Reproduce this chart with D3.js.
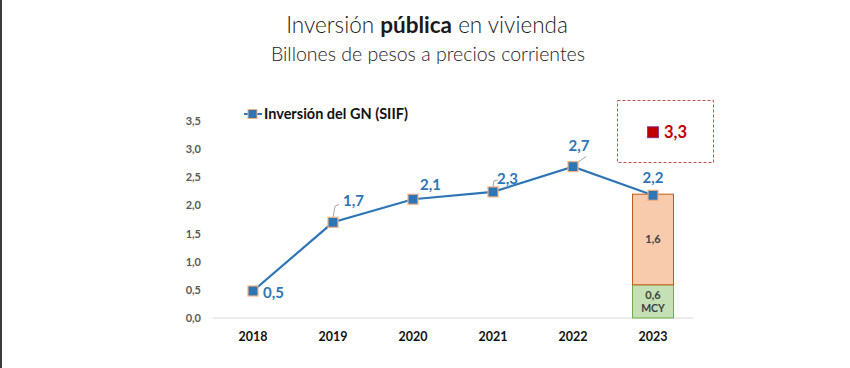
<!DOCTYPE html>
<html><head><meta charset="utf-8">
<script src="https://cdn.jsdelivr.net/npm/d3@7"></script>
<style>
body{margin:0;background:#fff;}
svg{display:block;font-family:Lato,"Open Sans",sans-serif;}
</style></head>
<body><svg id="c" width="850" height="368"></svg>
<script>
const years = ["2018","2019","2020","2021","2022","2023"];
const gnValues = [0.48, 1.70, 2.11, 2.24, 2.69, 2.18];
const gnLabels = ["0,5","1,7","2,1","2,3","2,7","2,2"];
const barMcy = 0.59;
const barRest = 1.61;
const barLabels = ["0,6","1,6"];
const totalValue = 3.3;
const totalLabel = "3,3";
const yTicks = [0,0.5,1,1.5,2,2.5,3,3.5];

const svg = d3.select("#c");
svg.append("rect").attr("x",0).attr("y",0).attr("width",2).attr("height",368).attr("fill","#3a3a3a");

const x = d3.scaleBand().domain(years).range([213,693]);
const y = d3.scaleLinear().domain([0,3.5]).range([318,121]);
const cx = d => x(d)+x.bandwidth()/2;

// titles
const t = svg.append("text").attr("x",427).attr("y",33).attr("text-anchor","middle")
  .attr("font-size",22.5).attr("font-weight",300).attr("fill","#1a1a1a");
t.append("tspan").text("Inversión ");
t.append("tspan").attr("font-weight",700).text("pública");
t.append("tspan").text(" en vivienda");
svg.append("text").attr("x",428).attr("y",61).attr("text-anchor","middle")
  .attr("font-size",19.5).attr("font-weight",300).attr("fill","#1a1a1a")
  .text("Billones de pesos a precios corrientes");

// y axis labels
svg.append("g").selectAll("text").data(yTicks).join("text")
  .attr("x",201).attr("y",d=>y(d)+4).attr("text-anchor","end")
  .attr("font-size",11).attr("font-weight",700).attr("fill","#595959")
  .text(d=>d3.format(".1f")(d).replace(".",","));

// x axis line
svg.append("line").attr("x1",213).attr("x2",693).attr("y1",y(0)).attr("y2",y(0))
  .attr("stroke","#d9d9d9").attr("stroke-width",1);
svg.append("g").selectAll("text").data(years).join("text")
  .attr("x",d=>cx(d)).attr("y",341).attr("text-anchor","middle")
  .attr("font-size",12.5).attr("font-weight",700).attr("fill","#111")
  .text(d=>d);

// stacked bar 2023
const bw = 41;
const bx = cx("2023")-bw/2;
svg.append("rect").attr("x",bx).attr("y",y(barMcy)).attr("width",bw).attr("height",y(0)-y(barMcy))
  .attr("fill","#c5e0b4").attr("stroke","#70ad47").attr("stroke-width",1);
svg.append("rect").attr("x",bx).attr("y",y(barMcy+barRest)).attr("width",bw).attr("height",y(barMcy)-y(barMcy+barRest))
  .attr("fill","#f8cbad").attr("stroke","#c55a11").attr("stroke-width",1);
svg.append("text").attr("x",cx("2023")).attr("y",y(barMcy+barRest/2)+4).attr("text-anchor","middle")
  .attr("font-size",11).attr("font-weight",700).attr("fill","#404040").text(barLabels[1]);
svg.append("text").attr("x",cx("2023")).attr("y",y(barMcy/2)-2).attr("text-anchor","middle")
  .attr("font-size",11).attr("font-weight",700).attr("fill","#404040").text(barLabels[0]);
svg.append("text").attr("x",cx("2023")).attr("y",y(barMcy/2)+11).attr("text-anchor","middle")
  .attr("font-size",10.5).attr("font-weight",700).attr("fill","#404040").text("MCY");

// line
const line = d3.line().x((d,i)=>cx(years[i])).y(d=>y(d));
svg.append("path").datum(gnValues).attr("d",line).attr("fill","none")
  .attr("stroke","#2e75b6").attr("stroke-width",2.2);

// leader lines
const leaders = [
  {i:1, pts:[[0,-5],[2,-16],[6,-18]]},
  {i:3, pts:[[0,-5],[1,-11],[5,-12]]},
  {i:4, pts:[[3,-3],[13,-10]]}
];
leaders.forEach(l=>{
  const px = cx(years[l.i]), py = y(gnValues[l.i]);
  svg.append("path").attr("d",d3.line()(l.pts.map(p=>[px+p[0],py+p[1]])))
    .attr("fill","none").attr("stroke","#a6a6a6").attr("stroke-width",1);
});

// markers
svg.append("g").selectAll("rect").data(gnValues).join("rect")
  .attr("x",(d,i)=>cx(years[i])-5).attr("y",d=>y(d)-5).attr("width",10).attr("height",10)
  .attr("fill","#2e75b6").attr("stroke","#f4b183").attr("stroke-width",1.2);

// data labels
const lblOff = [[10,7],[10,-16],[7,-9],[4,-8],[6,-16],[0,-12]];
svg.append("g").selectAll("text").data(gnValues).join("text")
  .attr("x",(d,i)=>cx(years[i])+lblOff[i][0]).attr("y",(d,i)=>y(d)+lblOff[i][1])
  .attr("text-anchor",(d,i)=>i===5||i===4?"middle":"start")
  .attr("font-size",15).attr("font-weight",700).attr("fill","#2e75b6")
  .text((d,i)=>gnLabels[i]);

// total box
svg.append("rect").attr("x",617.5).attr("y",100.5).attr("width",96).attr("height",62)
  .attr("fill","none").attr("stroke","#c0504d").attr("stroke-width",1).attr("stroke-dasharray","3,2");
svg.append("rect").attr("x",cx("2023")-5.5).attr("y",y(totalValue)-5.5).attr("width",11).attr("height",11)
  .attr("fill","#c00000").attr("stroke","#7030a0").attr("stroke-width",0.8);
svg.append("text").attr("x",cx("2023")+11).attr("y",y(totalValue)+6)
  .attr("font-size",16.5).attr("font-weight",700).attr("fill","#c00000").text(totalLabel);

// legend
const lg = svg.append("g");
lg.append("line").attr("x1",244).attr("x2",262).attr("y1",114).attr("y2",114).attr("stroke","#2e75b6").attr("stroke-width",2);
lg.append("rect").attr("x",248).attr("y",109.5).attr("width",9).attr("height",9).attr("fill","#2e75b6").attr("stroke","#f4b183");
lg.append("text").attr("x",264).attr("y",119).attr("font-size",14.5).attr("font-weight",700).attr("fill","#111")
  .text("Inversión del GN (SIIF)");
</script></body></html>
